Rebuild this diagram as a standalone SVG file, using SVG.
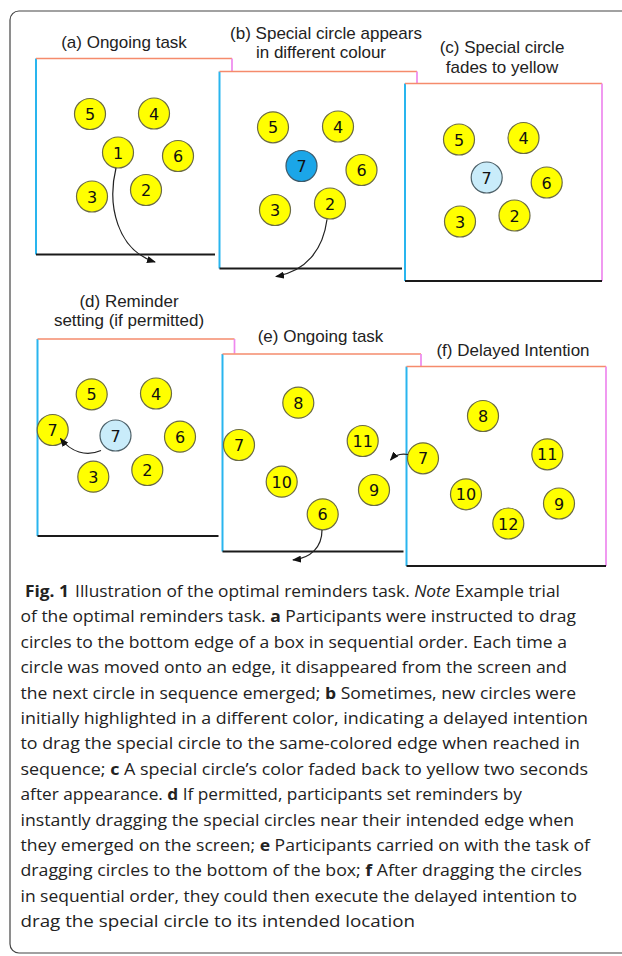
<svg xmlns="http://www.w3.org/2000/svg" width="622" height="956" viewBox="0 0 622 956">
<style>
.lbl{font-family:"Liberation Sans",Arial,sans-serif;font-size:17px;fill:#222;text-anchor:middle}
.num{font-family:"DejaVu Sans",Verdana,sans-serif;font-size:16px;fill:#111;text-anchor:middle}
.c{fill:#ffff00;stroke:#6b6b45;stroke-width:1.2}
.cb{fill:#1ba6e8;stroke:#3d5a6a;stroke-width:1.2}
.cl{fill:#c9ecfa;stroke:#4d6068;stroke-width:1.2}
.top{stroke:#f58b6c;stroke-width:1.7;fill:none}
.left{stroke:#29b5ee;stroke-width:2;fill:none}
.right{stroke:#ee88ee;stroke-width:1.7;fill:none}
.bot{stroke:#1a1a1a;stroke-width:1.8;fill:none}
.arr{fill:none;stroke:#222;stroke-width:1.2;marker-end:url(#ah)}
.cap{font-family:"Open Sans","Noto Sans",sans-serif;font-size:16.8px;fill:#222}
.b{font-weight:bold}
</style>
<defs>
<marker id="ah" markerUnits="userSpaceOnUse" markerWidth="9" markerHeight="7" refX="8" refY="3.5" orient="auto">
<path d="M0,0 L9,3.5 L0,7 z" fill="#111"/>
</marker>
</defs>
<rect x="10" y="11" width="700" height="942" rx="9" fill="#fff" stroke="#444" stroke-width="1.2"/>

<g id="panel-a">
<text class="lbl" x="124" y="47.5">(a) Ongoing task</text>
<line class="left" x1="36" y1="58.5" x2="36" y2="254.5"/>
<line class="top" x1="36" y1="58.5" x2="232" y2="58.5"/>
<line class="right" x1="232" y1="58.5" x2="232" y2="71.5"/>
<line class="bot" x1="36" y1="254.5" x2="215" y2="254.5"/>
<g id="a-5"><circle class="c" cx="90" cy="114" r="15.5"/><text class="num" x="90" y="120">5</text></g>
<g id="a-4"><circle class="c" cx="154" cy="113.5" r="15.5"/><text class="num" x="154" y="119.5">4</text></g>
<g id="a-1"><circle class="c" cx="118" cy="152.5" r="15.5"/><text class="num" x="118" y="158.5">1</text></g>
<g id="a-6"><circle class="c" cx="178" cy="156" r="15.5"/><text class="num" x="178" y="162">6</text></g>
<g id="a-3"><circle class="c" cx="92" cy="196.5" r="15.5"/><text class="num" x="92" y="202.5">3</text></g>
<g id="a-2"><circle class="c" cx="146" cy="190" r="15.5"/><text class="num" x="146" y="196">2</text></g>
</g>

<g id="panel-b">
<text class="lbl" x="326" y="39">(b) Special circle appears</text>
<text class="lbl" x="321" y="57.5">in different colour</text>
<line class="left" x1="219.5" y1="71.5" x2="219.5" y2="268.5"/>
<line class="top" x1="219.5" y1="71.5" x2="417" y2="71.5"/>
<line class="right" x1="417" y1="71.5" x2="417" y2="83.5"/>
<line class="bot" x1="219.5" y1="268.5" x2="402" y2="268.5"/>
<g id="b-5"><circle class="c" cx="273" cy="127.3" r="15.5"/><text class="num" x="273" y="133.3">5</text></g>
<g id="b-4"><circle class="c" cx="338" cy="126.5" r="15.5"/><text class="num" x="338" y="132.5">4</text></g>
<g id="b-7"><circle class="cb" cx="301.5" cy="166" r="15.5"/><text class="num" x="301.5" y="172">7</text></g>
<g id="b-6"><circle class="c" cx="361.5" cy="170" r="15.5"/><text class="num" x="361.5" y="176">6</text></g>
<g id="b-3"><circle class="c" cx="275" cy="210" r="15.5"/><text class="num" x="275" y="216">3</text></g>
<g id="b-2"><circle class="c" cx="330" cy="203.5" r="15.5"/><text class="num" x="330" y="209.5">2</text></g>
</g>

<g id="panel-c">
<text class="lbl" x="502" y="52.7">(c) Special circle</text>
<text class="lbl" x="502" y="72.7">fades to yellow</text>
<line class="left" x1="405" y1="83.5" x2="405" y2="281"/>
<line class="top" x1="405" y1="83.5" x2="602" y2="83.5"/>
<line class="right" x1="602" y1="83.5" x2="602" y2="281"/>
<line class="bot" x1="405" y1="281" x2="602" y2="281"/>
<g id="c-5"><circle class="c" cx="459" cy="139.5" r="15.5"/><text class="num" x="459" y="145.5">5</text></g>
<g id="c-4"><circle class="c" cx="523.5" cy="138" r="15.5"/><text class="num" x="523.5" y="144">4</text></g>
<g id="c-7"><circle class="cl" cx="486.7" cy="177.5" r="15.5"/><text class="num" x="486.7" y="183.5">7</text></g>
<g id="c-6"><circle class="c" cx="546.7" cy="182.5" r="15.5"/><text class="num" x="546.7" y="188.5">6</text></g>
<g id="c-3"><circle class="c" cx="460" cy="221.5" r="15.5"/><text class="num" x="460" y="227.5">3</text></g>
<g id="c-2"><circle class="c" cx="514.5" cy="215.5" r="15.5"/><text class="num" x="514.5" y="221.5">2</text></g>
</g>

<g id="panel-d">
<text class="lbl" x="129" y="306.7">(d) Reminder</text>
<text class="lbl" x="129" y="326">setting (if permitted)</text>
<line class="left" x1="37.5" y1="339" x2="37.5" y2="536"/>
<line class="top" x1="37.5" y1="339" x2="234.5" y2="339"/>
<line class="right" x1="234.5" y1="339" x2="234.5" y2="353.5"/>
<line class="bot" x1="37.5" y1="536" x2="218.5" y2="536"/>
<g id="d-5"><circle class="c" cx="91.7" cy="394.3" r="15.5"/><text class="num" x="91.7" y="400.3">5</text></g>
<g id="d-4"><circle class="c" cx="156" cy="393.5" r="15.5"/><text class="num" x="156" y="399.5">4</text></g>
<g id="d-7y"><circle class="c" cx="52.7" cy="430" r="15.5"/><text class="num" x="52.7" y="436">7</text></g>
<g id="d-7"><circle class="cl" cx="115.5" cy="435.5" r="15.5"/><text class="num" x="115.5" y="441.5">7</text></g>
<g id="d-6"><circle class="c" cx="180" cy="436.7" r="15.5"/><text class="num" x="180" y="442.7">6</text></g>
<g id="d-3"><circle class="c" cx="93.3" cy="476.7" r="15.5"/><text class="num" x="93.3" y="482.7">3</text></g>
<g id="d-2"><circle class="c" cx="147.3" cy="470" r="15.5"/><text class="num" x="147.3" y="476">2</text></g>
</g>

<g id="panel-e">
<text class="lbl" x="320.5" y="341.7">(e) Ongoing task</text>
<line class="left" x1="222.5" y1="354" x2="222.5" y2="551.5"/>
<line class="top" x1="222.5" y1="354" x2="421" y2="354"/>
<line class="right" x1="421" y1="354" x2="421" y2="366.5"/>
<line class="bot" x1="222.5" y1="551.5" x2="403.5" y2="551.5"/>
<g id="e-8"><circle class="c" cx="298.3" cy="402.7" r="15.5"/><text class="num" x="298.3" y="408.7">8</text></g>
<g id="e-7"><circle class="c" cx="239" cy="445" r="15.5"/><text class="num" x="239" y="451">7</text></g>
<g id="e-11"><circle class="c" cx="362.7" cy="441" r="15.5"/><text class="num" x="362.7" y="447">11</text></g>
<g id="e-10"><circle class="c" cx="281.7" cy="481.7" r="15.5"/><text class="num" x="281.7" y="487.7">10</text></g>
<g id="e-9"><circle class="c" cx="374" cy="490" r="15.5"/><text class="num" x="374" y="496">9</text></g>
<g id="e-6"><circle class="c" cx="322.7" cy="514.3" r="15.5"/><text class="num" x="322.7" y="520.3">6</text></g>
</g>

<g id="panel-f">
<text class="lbl" x="513" y="356">(f) Delayed Intention</text>
<line class="left" x1="406.5" y1="366.5" x2="406.5" y2="566"/>
<line class="top" x1="406.5" y1="366.5" x2="606" y2="366.5"/>
<line class="right" x1="606" y1="366.5" x2="606" y2="566"/>
<line class="bot" x1="406.5" y1="566" x2="606" y2="566"/>
<g id="f-8"><circle class="c" cx="483" cy="416" r="15.5"/><text class="num" x="483" y="422">8</text></g>
<g id="f-7"><circle class="c" cx="423" cy="458.3" r="15.5"/><text class="num" x="423" y="464.3">7</text></g>
<g id="f-11"><circle class="c" cx="547.3" cy="454.3" r="15.5"/><text class="num" x="547.3" y="460.3">11</text></g>
<g id="f-10"><circle class="c" cx="466" cy="494.3" r="15.5"/><text class="num" x="466" y="500.3">10</text></g>
<g id="f-9"><circle class="c" cx="559" cy="503.5" r="15.5"/><text class="num" x="559" y="509.5">9</text></g>
<g id="f-12"><circle class="c" cx="508.3" cy="523.5" r="15.5"/><text class="num" x="508.3" y="529.5">12</text></g>
</g>

<g id="connectors">
<path class="arr" d="M116,168 C107,205 117,250 155,262"/>
<path class="arr" d="M327,219.5 C323,250 306,271 276,276.5"/>
<path class="arr" d="M101,450.5 C86,457 71,452 60.5,438.5"/>
<path class="arr" d="M322,530 C322,547 311,558 293,560"/>
<path class="arr" d="M408,454.5 C400,453 395,455 390.5,460"/>
</g>

<g id="caption">
<text class="cap" x="25" y="597" textLength="535" lengthAdjust="spacingAndGlyphs"><tspan class="b">Fig. 1</tspan><tspan dx="6">Illustration of the optimal reminders task. </tspan><tspan font-style="italic">Note</tspan> Example trial</text>
<text class="cap" x="20.5" y="622.4" textLength="555.5" lengthAdjust="spacingAndGlyphs">of the optimal reminders task. <tspan class="b">a</tspan> Participants were instructed to drag</text>
<text class="cap" x="20.5" y="647.8" textLength="546.5" lengthAdjust="spacingAndGlyphs">circles to the bottom edge of a box in sequential order. Each time a</text>
<text class="cap" x="20.5" y="673.2" textLength="546.5" lengthAdjust="spacingAndGlyphs">circle was moved onto an edge, it disappeared from the screen and</text>
<text class="cap" x="20.5" y="698.6" textLength="555.5" lengthAdjust="spacingAndGlyphs">the next circle in sequence emerged; <tspan class="b">b</tspan> Sometimes, new circles were</text>
<text class="cap" x="20.5" y="724" textLength="567.5" lengthAdjust="spacingAndGlyphs">initially highlighted in a different color, indicating a delayed intention</text>
<text class="cap" x="20.5" y="749.4" textLength="559.5" lengthAdjust="spacingAndGlyphs">to drag the special circle to the same-colored edge when reached in</text>
<text class="cap" x="20.5" y="774.8" textLength="567.5" lengthAdjust="spacingAndGlyphs">sequence; <tspan class="b">c</tspan> A special circle’s color faded back to yellow two seconds</text>
<text class="cap" x="20.5" y="800.2" textLength="501.5" lengthAdjust="spacingAndGlyphs">after appearance. <tspan class="b">d</tspan> If permitted, participants set reminders by</text>
<text class="cap" x="20.5" y="825.6" textLength="553.5" lengthAdjust="spacingAndGlyphs">instantly dragging the special circles near their intended edge when</text>
<text class="cap" x="20.5" y="851" textLength="569.5" lengthAdjust="spacingAndGlyphs">they emerged on the screen; <tspan class="b">e</tspan> Participants carried on with the task of</text>
<text class="cap" x="20.5" y="876.4" textLength="561.5" lengthAdjust="spacingAndGlyphs">dragging circles to the bottom of the box; <tspan class="b">f</tspan> After dragging the circles</text>
<text class="cap" x="20.5" y="901.8" textLength="556.5" lengthAdjust="spacingAndGlyphs">in sequential order, they could then execute the delayed intention to</text>
<text class="cap" x="20.5" y="927.2" textLength="394.5" lengthAdjust="spacingAndGlyphs">drag the special circle to its intended location</text>
</g>
</svg>
